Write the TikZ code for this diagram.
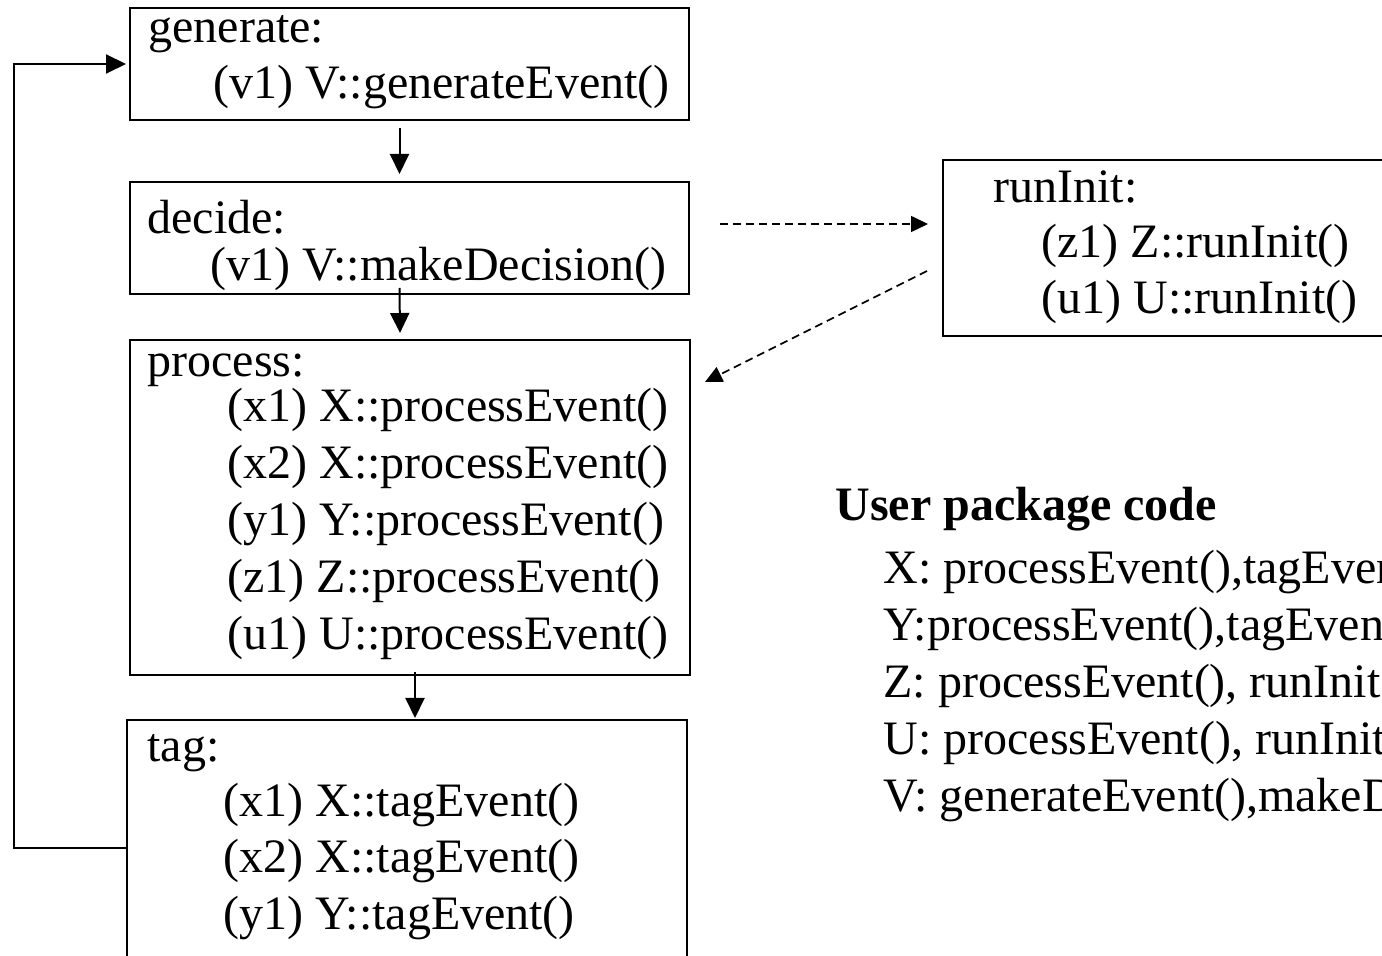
\documentclass[tikz,border=0pt]{standalone}
\usepackage{fontspec}
\setmainfont{Liberation Serif}
\usetikzlibrary{arrows.meta, calc}
\tikzset{
  stage/.style={rectangle, draw, line width=1pt, anchor=north west, inner sep=0pt},
  codeline/.style={anchor=base west, inner sep=0pt, font=\fontsize{24}{28}\selectfont},
  arrow/.style={-{Triangle[length=10pt, width=9.5pt]}, line width=1pt},
  dasharrow/.style={-{Triangle[length=8.5pt, width=8pt]}, line width=0.8pt, dash pattern=on 4pt off 2.5pt},
}

\begin{document}
\begin{tikzpicture}[x=0.5pt, y=-0.5pt]
  \useasboundingbox (0,0) rectangle (1382,956);
  \clip (0,0) rectangle (1382,956);

  % stage boxes
  \node[stage, minimum width=279.5pt, minimum height=56pt] (gen) at (129,7) {};
  \node[stage, minimum width=279.5pt, minimum height=56pt] (dec) at (129,181) {};
  \node[stage, minimum width=280pt, minimum height=167.5pt] (proc) at (129,339) {};
  \node[stage, minimum width=280pt, minimum height=128pt] (tag) at (126,719) {};
  \node[stage, minimum width=250pt, minimum height=88pt] (init) at (942,159) {};

  % box texts
  \node[codeline] (genhead) at (148,43) {generate:};
  \node[codeline] (genline) at (213,99) {(v1) V::generateEvent()};
  \node[codeline] (dechead) at (147,234) {decide:};
  \node[codeline] (decline) at (210,281) {(v1) V::makeDecision()};
  \node[codeline] (prochead) at (147,377) {process:};
  \foreach \txt [count=\i] in {{(x1) X::processEvent()}, {(x2) X::processEvent()},
      {(y1) Y::processEvent()}, {(z1) Z::processEvent()}, {(u1) U::processEvent()}}
    \node[codeline] (procline\i) at (227,{422+57*(\i-1)}) {\txt};
  \node[codeline] (taghead) at (147,762) {tag:};
  \foreach \txt [count=\i] in {{(x1) X::tagEvent()}, {(x2) X::tagEvent()}, {(y1) Y::tagEvent()}}
    \node[codeline] (tagline\i) at (223,{816+56.5*(\i-1)}) {\txt};
  \node[codeline] (inithead) at (993,203) {runInit:};
  \node[codeline] (initline1) at (1041,258) {(z1) Z::runInit()};
  \node[codeline] (initline2) at (1041,314) {(u1) U::runInit()};

  % user package code
  \node[codeline, font=\fontsize{24}{28}\selectfont\bfseries] (userhead) at (835,521) {User package code};
  \foreach \txt [count=\i] in {{X: processEvent(),tagEvent()}, {Y:processEvent(),tagEvent()},
      {Z: processEvent(), runInit()}, {U: processEvent(), runInit()}, {V: generateEvent(),makeDecision()}}
    \node[codeline] (userline\i) at (883,{584+56.8*(\i-1)}) {\txt};

  % flow
  \draw[arrow] ([xshift=-5pt, yshift=-3.5pt]gen.south) -- ([xshift=-5pt, yshift=3.5pt]dec.north);
  \draw[arrow] ([xshift=-5pt, yshift=3.5pt]dec.south) -- ([xshift=-5pt, yshift=3pt]proc.north);
  \draw[arrow] ([xshift=2.5pt, yshift=2pt]proc.south) -- ([xshift=4pt, yshift=0.5pt]tag.north);
  \draw[arrow] (tag.west) -- ++(-112,0) |- ([xshift=-1.5pt]gen.west);

  \draw[dasharrow] ($(dec.east)+(30,-14)$) -- ($(init.west)+(-14,-24)$);
  \draw[dasharrow] ($(init.west)+(-15,23)$) -- ($(proc.north east)+(14,43)$);
\end{tikzpicture}
\end{document}
